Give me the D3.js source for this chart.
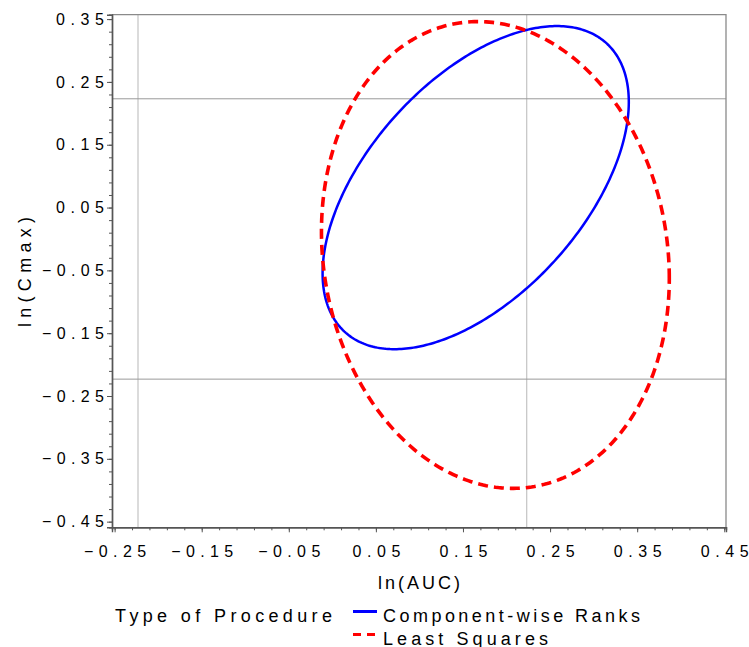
<!DOCTYPE html>
<html>
<head>
<meta charset="utf-8">
<script src="https://cdn.jsdelivr.net/npm/d3@7"></script>
<style>
  body { margin: 0; background: #fff; }
  svg text { font-family: "Liberation Sans", Arial, sans-serif; fill: #000; }
</style>
</head>
<body>
<svg id="chart" width="749" height="647"></svg>
<script>
// confidence ellipses (log scale)
const procedures = ['Component-wise Ranks', 'Least Squares'];
const centerX = [0.1646, 0.1872];
const centerY = [0.0817, -0.0255];
const halfWidth = [0.1758, 0.1997];
const halfHeight = [0.2572, 0.3715];
const rho = [0.53, -0.10];
const colors = ['#0000ff', '#ff0000'];

const xTicks = [-0.25, -0.15, -0.05, 0.05, 0.15, 0.25, 0.35, 0.45];
const yTicks = [0.35, 0.25, 0.15, 0.05, -0.05, -0.15, -0.25, -0.35, -0.45];
const refLines = [Math.log(0.8), Math.log(1.25)];

const svg = d3.select('#chart');

// plot frame
const frame = { left: 112, right: 726, top: 14.7, bottom: 527.3 };

const x = d3.scaleLinear().domain([-0.253, 0.452]).range([frame.left, frame.right]);
const y = d3.scaleLinear().domain([0.357, -0.459]).range([frame.top, frame.bottom]);

const fmt = (d) => d3.format('.2f')(d);
// SAS-style spread tick labels: fixed widths
const labelWidth = (d) => (d < 0 ? 62 : 48);

// reference lines
svg.selectAll('.vref')
  .data(refLines)
  .enter()
  .append('line')
  .attr('x1', (d) => x(d)).attr('x2', (d) => x(d))
  .attr('y1', frame.top).attr('y2', frame.bottom)
  .attr('stroke', '#c8c8c8').attr('stroke-width', 1.3);

svg.selectAll('.href')
  .data(refLines)
  .enter()
  .append('line')
  .attr('y1', (d) => y(d)).attr('y2', (d) => y(d))
  .attr('x1', frame.left).attr('x2', frame.right)
  .attr('stroke', '#9a9a9a').attr('stroke-width', 1);

// top / right frame
svg.append('path')
  .attr('d', `M${frame.left},${frame.top}H${frame.right}V${frame.bottom}`)
  .attr('fill', 'none')
  .attr('stroke', '#8a8a8a')
  .attr('stroke-width', 1.3);

// ellipses
const line = d3.line().x((d) => x(d[0])).y((d) => y(d[1])).curve(d3.curveLinearClosed);
const angles = d3.range(0, 360).map((i) => (i * Math.PI) / 180);

procedures.forEach((p, i) => {
  const pts = angles.map((t) => [
    centerX[i] + halfWidth[i] * Math.cos(t),
    centerY[i] + halfHeight[i] * (rho[i] * Math.cos(t) + Math.sqrt(1 - rho[i] * rho[i]) * Math.sin(t)),
  ]);
  svg.append('path')
    .attr('d', line(pts))
    .attr('fill', 'none')
    .attr('stroke', colors[i])
    .attr('stroke-width', i === 0 ? 2.5 : 3.6)
    .attr('stroke-dasharray', i === 0 ? null : '10,6');
});

// x axis
const xMinor = d3.range(-25, 46, 2).map((d) => d / 100);
const xAxis = d3.axisBottom(x).tickValues(xTicks).tickFormat(fmt).tickSizeOuter(0).tickSize(5).tickPadding(13);
const xAxisMinor = d3.axisBottom(x).tickValues(xMinor).tickFormat('').tickSizeOuter(0).tickSize(3);

const gxMinor = svg.append('g').attr('transform', `translate(0,${frame.bottom})`).call(xAxisMinor);
const gx = svg.append('g').attr('transform', `translate(0,${frame.bottom})`).call(xAxis);

// y axis
const yMinor = d3.range(-45, 36, 2).map((d) => d / 100);
const yAxis = d3.axisLeft(y).tickValues(yTicks).tickFormat(fmt).tickSizeOuter(0).tickSize(5).tickPadding(3);
const yAxisMinor = d3.axisLeft(y).tickValues(yMinor).tickFormat('').tickSizeOuter(0).tickSize(3);

const gyMinor = svg.append('g').attr('transform', `translate(${frame.left},0)`).call(yAxisMinor);
const gy = svg.append('g').attr('transform', `translate(${frame.left},0)`).call(yAxis);

[gx, gy, gxMinor, gyMinor].forEach((g) => {
  g.select('.domain').attr('stroke', '#555').attr('stroke-width', 1.4);
  g.selectAll('.tick line').attr('stroke', '#555');
});

[gx, gy].forEach((g) => {
  g.selectAll('.tick text')
    .style('font-size', '16px')
    .attr('fill', '#000')
    .attr('textLength', (d) => labelWidth(d))
    .attr('lengthAdjust', 'spacing');
});

// axis titles
svg.append('text')
  .attr('x', 419)
  .attr('y', 589)
  .attr('text-anchor', 'middle')
  .style('font-size', '18px')
  .attr('textLength', 82)
  .attr('lengthAdjust', 'spacing')
  .text('ln(AUC)');

svg.append('text')
  .attr('transform', 'translate(31,272) rotate(-90)')
  .attr('text-anchor', 'middle')
  .style('font-size', '18px')
  .attr('textLength', 110)
  .attr('lengthAdjust', 'spacing')
  .text('ln(Cmax)');

// legend
const legend = svg.append('g').attr('id', 'legend');
const legendWidths = [257, 165];

legend.append('text')
  .attr('x', 115)
  .attr('y', 621.5)
  .style('font-size', '18px')
  .attr('textLength', 217)
  .attr('lengthAdjust', 'spacing')
  .text('Type of Procedure');

procedures.forEach((p, i) => {
  const ly = 611.5 + i * 23;
  legend.append('line')
    .attr('x1', 353).attr('x2', 377)
    .attr('y1', ly).attr('y2', ly)
    .attr('stroke', colors[i])
    .attr('stroke-width', 3)
    .attr('stroke-dasharray', i === 0 ? null : '8,6');
  legend.append('text')
    .attr('x', 383)
    .attr('y', ly + 10)
    .style('font-size', '18px')
    .attr('textLength', legendWidths[i])
    .attr('lengthAdjust', 'spacing')
    .text(p);
});
</script>
</body>
</html>
